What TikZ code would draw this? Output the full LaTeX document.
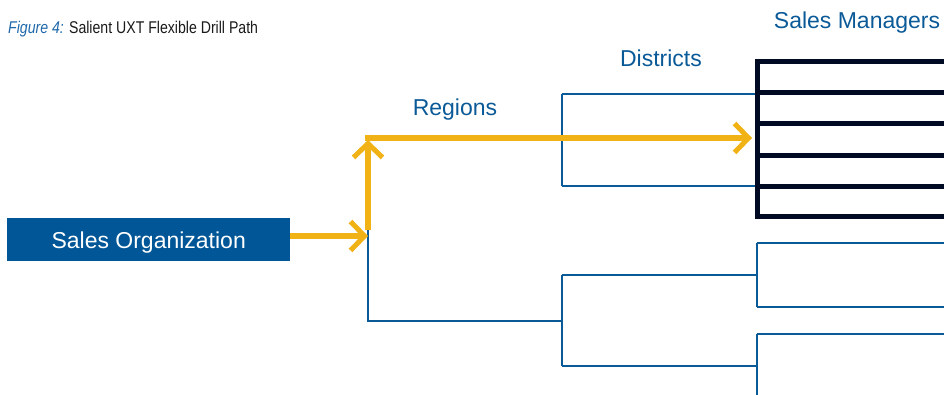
\documentclass[tikz,border=0pt]{standalone}
\usepackage{fontspec}
\setmainfont{Liberation Sans}
\newfontfamily\capfont[FakeStretch=0.83]{Liberation Sans}
\usetikzlibrary{arrows.meta}
\definecolor{orgblue}{HTML}{005696}
\definecolor{lineblue}{HTML}{0B5A98}
\definecolor{capblue}{HTML}{1F68AA}
\definecolor{drill}{HTML}{F0B214}
\definecolor{mgr}{HTML}{000A22}
\definecolor{captext}{HTML}{1A1A1A}
\begin{document}
\begin{tikzpicture}[x=1pt,y=-1pt,
  tree/.style={draw=lineblue,line width=2.4pt},
  mgrline/.style={draw=mgr,line width=5pt},
  drillpath/.style={draw=drill,line width=5.5pt,
    -{Straight Barb[length=14pt,width=29pt,line width=5pt]}},
  lvl/.style={text=lineblue,font=\fontsize{23}{23}\selectfont,anchor=base,inner sep=0pt}]
\useasboundingbox (0,0) rectangle (944,395);

% caption
\node[anchor=base west,inner sep=0pt,font=\capfont\fontsize{17}{17}\selectfont]
  (cap) at (8,34) {\textcolor{capblue}{\itshape Figure 4:} \textcolor{captext}{Salient UXT Flexible Drill Path}};

% level labels
\node[lvl] (lreg) at (455,116) {Regions};
\node[lvl] (ldis) at (661,67) {Districts};
\node[lvl] (lmgr) at (857,29) {Sales Managers};

% root
\node[fill=orgblue,text=white,minimum width=283pt,minimum height=43pt,inner sep=0pt,
  text depth=0pt,anchor=north west,font=\fontsize{23}{23}\selectfont] (org) at (7,218) {Sales Organization};

% junction points of the tree
\coordinate (rj) at (368,236);
\coordinate (rtop) at (368,138);
\coordinate (rbot) at (368,321);
\coordinate (dA) at (562,138);
\coordinate (dAt) at (562,94);
\coordinate (dAb) at (562,186);
\coordinate (dB) at (562,321);
\coordinate (dBt) at (562,275);
\coordinate (dBb) at (562,366);
\coordinate (m1t) at (757,243);
\coordinate (m1b) at (757,307);
\coordinate (m2t) at (757,334);
\coordinate (m2b) at (757,400);
\coordinate (edge) at (950,0);
\coordinate (mtop) at (757,59.5);
\coordinate (mbot) at (757,219.5);
\coordinate (dtip) at (752,138);

% region and district branches
\draw[tree] (rtop) -- (rbot) -- (dB);
\draw[tree] (rtop) -- (dA);
\draw[tree] (dAt) -- (dAb);
\draw[tree] (dAt) -- (mtop |- dAt);
\draw[tree] (dAb) -- (mtop |- dAb);
\draw[tree] (dBt) -- (dBb);
\draw[tree] (dBt) -- (m1t |- dBt);
\draw[tree] (dBb) -- (m2t |- dBb);

% manager branches
\draw[tree] (m1t) -- (m1b);
\draw[tree] (m1t) -- (edge |- m1t);
\draw[tree] (m1b) -- (edge |- m1b);
\draw[tree] (m2t) -- (m2b);
\draw[tree] (m2t) -- (edge |- m2t);

% highlighted group of sales managers
\draw[mgrline] (mtop) -- (mbot);
\foreach \yy in {62,93,124,156,187,217}
  \draw[mgrline] (mtop |- 0,\yy) -- (edge |- 0,\yy);

% drill path
\draw[drillpath] (org.east |- rj) -- (rj);
\draw[drillpath] (368,230) -- (368,140);
\draw[drillpath] (365.3,138) -- (dtip);
\end{tikzpicture}
\end{document}
